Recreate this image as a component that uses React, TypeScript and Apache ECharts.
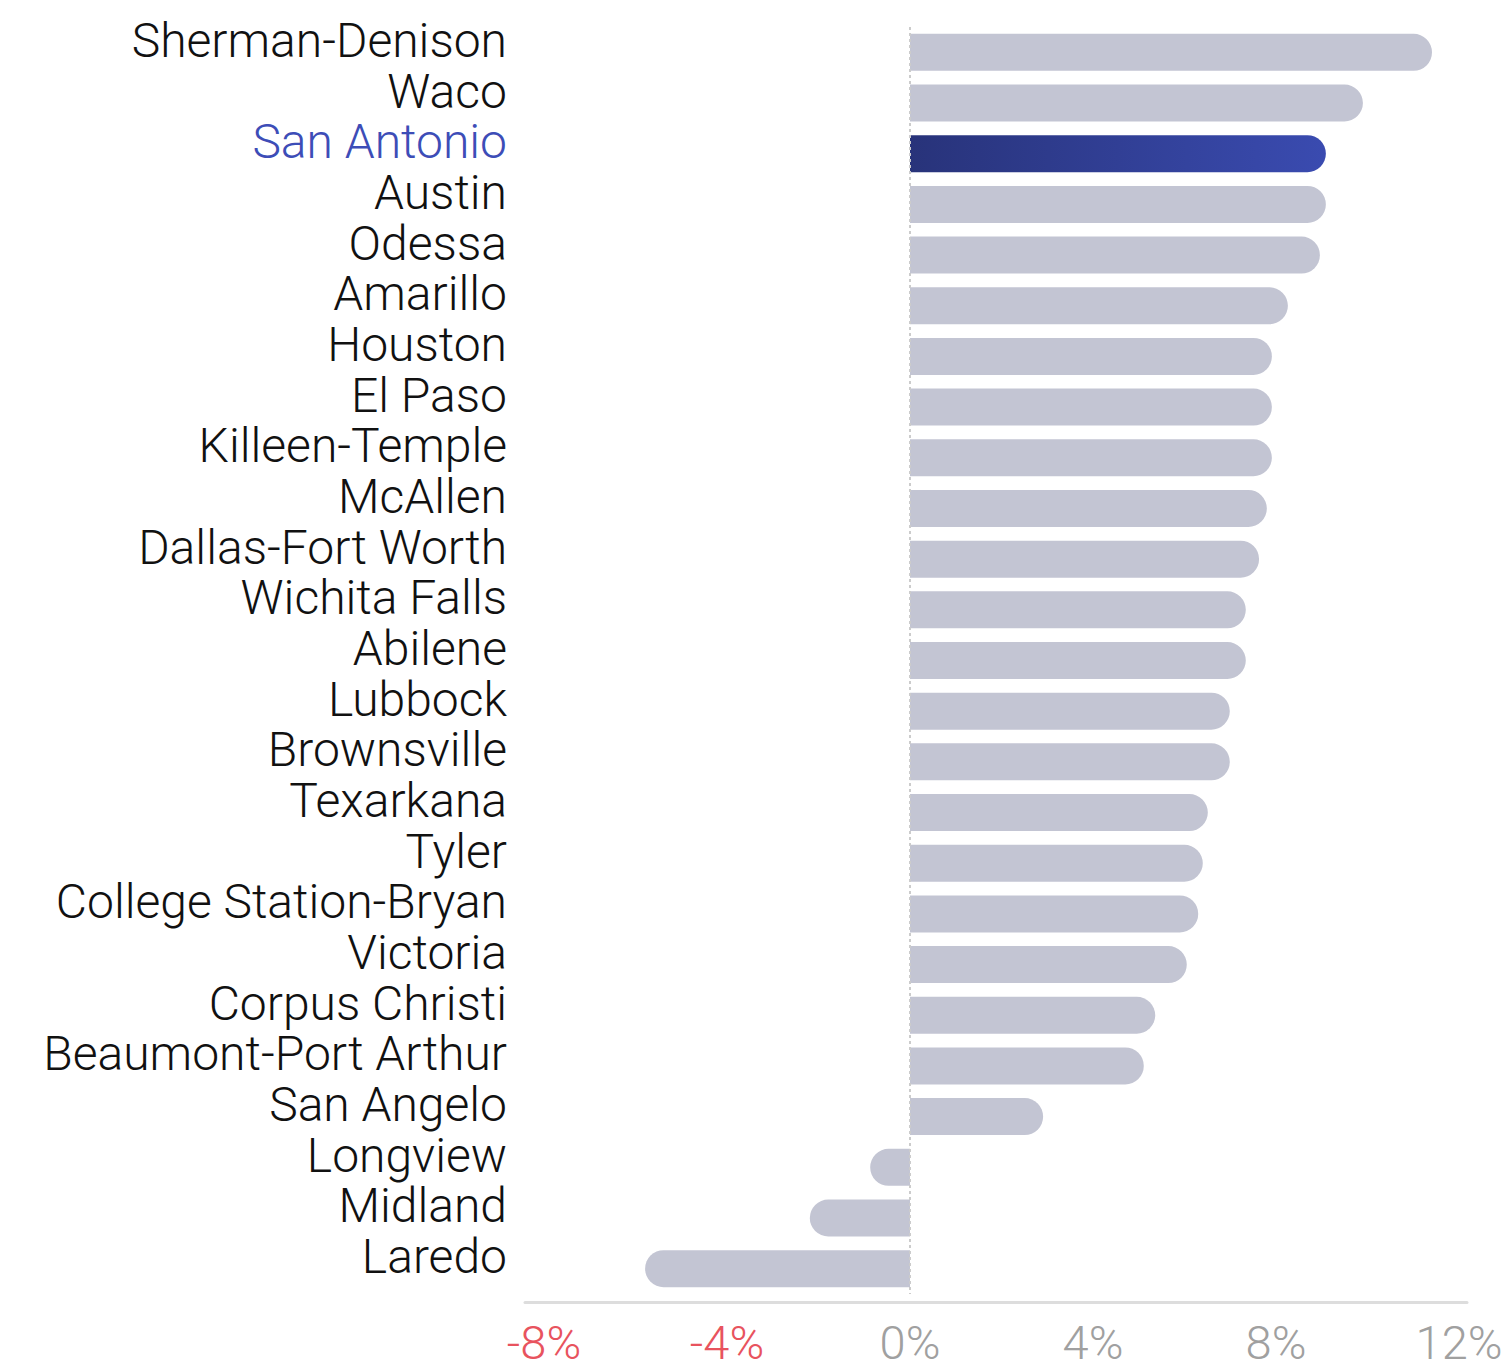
import React, { useEffect, useRef } from "react";
import * as echarts from "echarts";

const categories = [
  "Sherman-Denison", "Waco", "San Antonio", "Austin", "Odessa", "Amarillo", "Houston",
  "El Paso", "Killeen-Temple", "McAllen", "Dallas-Fort Worth", "Wichita Falls", "Abilene",
  "Lubbock", "Brownsville", "Texarkana", "Tyler", "College Station-Bryan", "Victoria",
  "Corpus Christi", "Beaumont-Port Arthur", "San Angelo", "Longview", "Midland", "Laredo",
];
const values = [
  11.41, 9.9, 9.09, 9.09, 8.96, 8.26, 7.91, 7.91, 7.91, 7.8, 7.63, 7.34, 7.34, 6.99, 6.99,
  6.51, 6.4, 6.3, 6.05, 5.36, 5.11, 2.91, -0.87, -2.19, -5.79,
];
const highlight = "San Antonio";
const tickValues = [-8, -4, 0, 4, 8, 12];

export default function App() {
  const ref = useRef<HTMLDivElement>(null);
  useEffect(() => {
    if (!ref.current) return;
    const chart = echarts.init(ref.current, undefined, { renderer: "svg" });
    const data = values.map((v, i) => {
      const isHi = categories[i] === highlight;
      return {
        value: v,
        itemStyle: {
          color: isHi
            ? new echarts.graphic.LinearGradient(0, 0, 1, 0, [
                { offset: 0, color: "#28337a" },
                { offset: 1, color: "#3a4bb0" },
              ])
            : "#c3c5d3",
          borderRadius: v >= 0 ? [0, 18.5, 18.5, 0] : [18.5, 0, 0, 18.5],
        },
      };
    });
    chart.setOption({
      animation: false,
      grid: { left: 525, right: 39, top: 27, height: 1267, containLabel: false },
      xAxis: {
        type: "value",
        min: -8.415,
        max: 12.175,
        offset: 8,
        axisLine: { show: true, lineStyle: { color: "#dddddd", width: 3 } },
        axisTick: { show: false },
        splitLine: { show: false },
        axisLabel: {
          customValues: tickValues,
          formatter: (v: number) => `${v}%`,
          color: (v: any) => (Number(v) < 0 ? "#e8535e" : "#a0a0a0"),
          fontFamily: "Roboto",
          fontWeight: 300,
          fontSize: 47,
          lineHeight: 40,
          margin: 20,
        },
      },
      yAxis: {
        type: "category",
        data: categories,
        inverse: true,
        axisLine: { show: false },
        axisTick: { show: false },
        axisLabel: {
          interval: 0,
          fontFamily: "Roboto",
          fontWeight: 300,
          fontSize: 48,
          margin: 18,
          verticalAlign: "bottom",
          lineHeight: 24,
          color: (v: any) => (v === highlight ? "#3d4db7" : "#111111"),
        },
      },
      series: [
        {
          type: "bar",
          data,
          barWidth: 37,
          markLine: {
            silent: true,
            symbol: "none",
            label: { show: false },
            z: 10,
            lineStyle: { color: "#cccccc", type: [3, 3], width: 2 },
            data: [{ xAxis: 0 }],
          },
        },
      ],
    });
    return () => chart.dispose();
  }, []);
  return (
    <div
      ref={ref}
      style={{ position: "absolute", left: 0, top: 0, width: 1506, height: 1369 }}
    />
  );
}
